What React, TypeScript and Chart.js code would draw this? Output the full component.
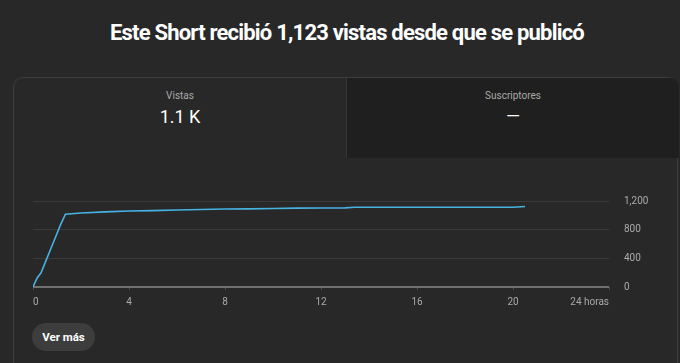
import React, { useEffect, useRef } from "react";
import { Chart, registerables } from "chart.js";

Chart.register(...registerables);

// Cumulative views by hours since publishing
const hours = [0, 0.08, 0.18, 0.33, 0.55, 0.75, 0.95, 1.15, 1.35, 2, 3, 4, 5, 6, 7, 8, 9, 10, 11, 12, 13, 13.4, 14, 16, 18, 20, 20.5];
const views = [0, 60, 130, 195, 375, 540, 705, 870, 1015, 1032, 1048, 1060, 1066, 1074, 1082, 1088, 1090, 1096, 1100, 1102, 1104, 1112, 1112, 1112, 1112, 1112, 1123];

const xTicks = [0, 4, 8, 12, 16, 20, 24];
const yTicks = [0, 400, 800, 1200];

const TITLE = "Este Short recibió 1,123 vistas desde que se publicó";
const FONT = "Roboto, 'Noto Sans', sans-serif";

export default function App() {
  const canvasRef = useRef<HTMLCanvasElement | null>(null);

  useEffect(() => {
    document.body.style.margin = "0";
    document.body.style.background = "#282828";
    const canvas = canvasRef.current;
    if (!canvas) return;
    const chart = new Chart(canvas, {
      type: "line",
      data: {
        datasets: [
          {
            data: hours.map((h, i) => ({ x: h, y: views[i] })),
            borderColor: "#46b3e2",
            borderWidth: 1.6,
            pointRadius: 0,
            tension: 0,
            fill: false,
          },
        ],
      },
      options: {
        animation: false,
        responsive: false,
        maintainAspectRatio: false,
        layout: { padding: { left: 33, top: 1, right: 0, bottom: 0 } },
        plugins: { legend: { display: false }, tooltip: { enabled: false } },
        scales: {
          x: {
            type: "linear",
            min: 0,
            max: 24,
            afterFit: (s: any) => {
              s.height = 23;
            },
            afterBuildTicks: (s: any) => {
              s.ticks = xTicks.map((v) => ({ value: v }));
            },
            ticks: {
              color: "#aaaaaa",
              font: { family: FONT, size: 10 },
              align: "inner",
              padding: 6,
              maxRotation: 0,
              autoSkip: false,
              callback: (v: any) => (v === 24 ? "24 horas" : String(v)),
            },
            grid: {
              drawOnChartArea: false,
              drawTicks: true,
              tickLength: 3,
              color: "#4a4a4a",
            },
            border: { display: false },
          },
          y: {
            position: "right",
            min: 0,
            max: 1200,
            afterFit: (s: any) => {
              s.width = 71;
            },
            afterBuildTicks: (s: any) => {
              s.ticks = yTicks.map((v) => ({ value: v }));
            },
            ticks: {
              color: "#aaaaaa",
              font: { family: FONT, size: 10 },
              padding: 15,
              callback: (v: any) => Number(v).toLocaleString("en-US"),
            },
            grid: {
              drawTicks: false,
              color: (c: any) => (c.tick && c.tick.value === 0 ? "#717171" : "#3a3a3a"),
              lineWidth: (c: any) => (c.tick && c.tick.value === 0 ? 2 : 1),
            },
            border: { display: false },
          },
        },
      },
    });
    return () => chart.destroy();
  }, []);

  return (
    <div
      style={{
        position: "fixed",
        left: 0,
        top: 0,
        width: 680,
        height: 363,
        background: "#282828",
        overflow: "hidden",
        fontFamily: FONT,
      }}
    >
      <div
        style={{
          position: "absolute",
          left: 0,
          top: 18,
          width: 694,
          textAlign: "center",
          color: "#ffffff",
          fontSize: 22,
          fontWeight: 700,
          letterSpacing: -0.8,
          lineHeight: "30px",
          whiteSpace: "nowrap",
        }}
      >
        {TITLE}
      </div>

      {/* card */}
      <div
        style={{
          position: "absolute",
          left: 13,
          top: 77,
          width: 665,
          height: 320,
          border: "1px solid #3e3e3e",
          borderRadius: 10,
          boxSizing: "border-box",
        }}
      />
      <div
        style={{
          position: "absolute",
          left: 346,
          top: 78,
          width: 332,
          height: 80,
          background: "#1f1f1f",
          borderLeft: "1px solid #353535",
          borderTopRightRadius: 9,
        }}
      />

      <div style={{ position: "absolute", left: 14, width: 332, top: 89, textAlign: "center", color: "#aaaaaa", fontSize: 10, lineHeight: "14px" }}>
        Vistas
      </div>
      <div style={{ position: "absolute", left: 14, width: 332, top: 105, textAlign: "center", color: "#ffffff", fontSize: 18, lineHeight: "24px" }}>
        1.1 K
      </div>
      <div style={{ position: "absolute", left: 347, width: 332, top: 89, textAlign: "center", color: "#aaaaaa", fontSize: 10, lineHeight: "14px" }}>
        Suscriptores
      </div>
      <div style={{ position: "absolute", left: 347, width: 332, top: 104, textAlign: "center", color: "#ffffff", fontSize: 18, lineHeight: "24px" }}>
        —
      </div>

      <canvas
        ref={canvasRef}
        width={680}
        height={130}
        style={{ position: "absolute", left: 0, top: 180, width: 680, height: 130 }}
      />

      <div
        style={{
          position: "absolute",
          left: 32,
          top: 323,
          width: 63,
          height: 28,
          borderRadius: 14,
          background: "#3d3d3d",
          color: "#ffffff",
          fontSize: 11.5,
          fontWeight: 700,
          lineHeight: "28px",
          textAlign: "center",
        }}
      >
        Ver más
      </div>
    </div>
  );
}
